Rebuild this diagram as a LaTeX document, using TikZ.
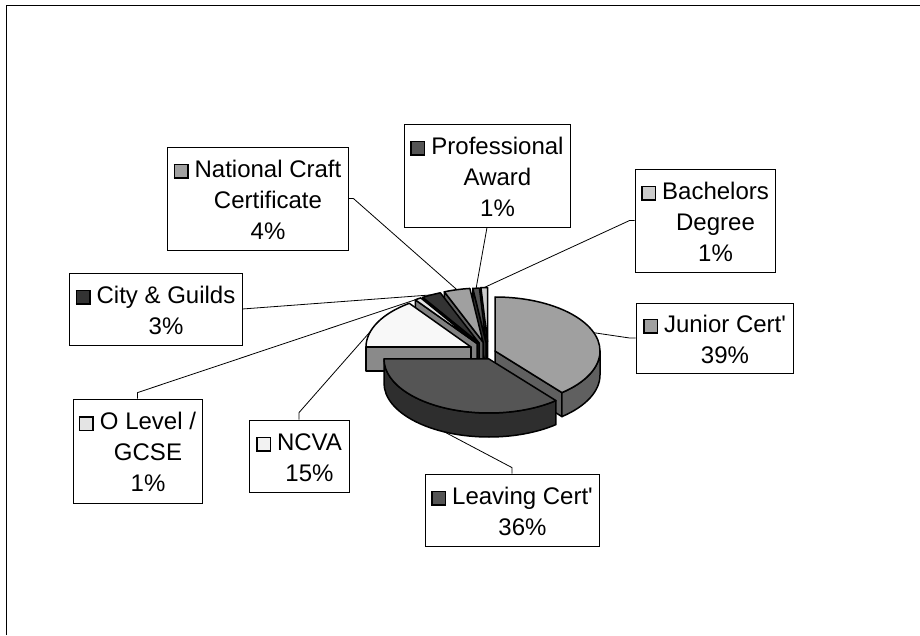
\documentclass[tikz,border=0pt]{standalone}
\usepackage{fontspec}
\setmainfont{Liberation Sans}[Ligatures=TeXOff]
\usetikzlibrary{calc}

% slice colours: top faces and darker side faces
\definecolor{jTop}{HTML}{A0A0A0}\definecolor{jSide}{HTML}{606060}
\definecolor{lTop}{HTML}{555555}\definecolor{lSide}{HTML}{2E2E2E}
\definecolor{nTop}{HTML}{F8F8F8}\definecolor{nSide}{HTML}{8A8A8A}
\definecolor{oTop}{HTML}{E4E4E4}\definecolor{oSide}{HTML}{808080}
\definecolor{cTop}{HTML}{333333}\definecolor{cSide}{HTML}{1C1C1C}
\definecolor{fTop}{HTML}{A0A0A0}\definecolor{fSide}{HTML}{606060}
\definecolor{pTop}{HTML}{555555}\definecolor{pSide}{HTML}{2E2E2E}
\definecolor{bTop}{HTML}{CCCCCC}\definecolor{bSide}{HTML}{757575}
\definecolor{nKey}{HTML}{F2F2F2}

% legend key square
\newcommand\swatch[1]{{\setlength\fboxsep{0pt}\setlength\fboxrule{1.5pt}%
  \fcolorbox{black}{#1}{\rule{0pt}{12pt}\hspace{12pt}}}}
% label body: key in the first column, centred lines in the second
\newcommand\labtext[1]{\raisebox{-10pt}[0pt][0pt]{\makebox[0pt]{%
  \begin{tabular}{@{}l@{\hspace{6pt}}c@{}}#1\end{tabular}}}}

% pie pieces: apex coordinate, angles, colour
\newcommand\pietop[4]{\filldraw[pieface, fill=#4] (#1) --
  ([shift={(#2:105pt and 54pt)}]#1)
  arc[start angle=#2, end angle=#3, x radius=105pt, y radius=54pt] -- cycle;}
\newcommand\piecut[3]{\filldraw[pieface, fill=#3] (#1) --
  ([shift={(#2:105pt and 54pt)}]#1) -- ++(0,-24pt) -- ([yshift=-24pt]#1) -- cycle;}
\newcommand\piewall[4]{\filldraw[pieface, fill=#4]
  ([shift={(#2:105pt and 54pt)}]#1)
  arc[start angle=#2, end angle=#3, x radius=105pt, y radius=54pt] -- ++(0,-24pt)
  arc[start angle=#3, end angle=#2, x radius=105pt, y radius=54pt] -- cycle;}

\tikzset{
  lab/.style={draw=black, line width=0.8pt, fill=white, inner sep=0pt,
    font=\fontsize{24}{31}\selectfont},
  conn/.style={draw=black, line width=0.8pt},
  pieface/.style={draw=black, line width=1.5pt, line join=round},
}

\begin{document}
\begin{tikzpicture}[x=1pt, y=1pt]
\useasboundingbox (0,0) rectangle (920,635);
\fill[white] (0,0) rectangle (920,635);
\draw[line width=1.5pt] (6.5,0) -- (6.5,629.5) -- (920,629.5);

% apexes of the exploded slices
\coordinate (aJ) at (495,284);
\coordinate (aL) at (489,276);
\coordinate (aN) at (471,288);
\coordinate (aO) at (477,291.5);
\coordinate (aC) at (479,292);
\coordinate (aF) at (483,293);
\coordinate (aP) at (486,293);
\coordinate (aB) at (487.5,293.5);

% back slices first
\piecut{aB}{93.6}{bSide}   \pietop{aB}{93.6}{90}{bTop}
\piecut{aP}{97.2}{pSide}   \pietop{aP}{97.2}{93.6}{pTop}
\piecut{aF}{111.6}{fSide}  \pietop{aF}{111.6}{97.2}{fTop}
\piecut{aC}{122.4}{cSide}  \pietop{aC}{122.4}{111.6}{cTop}
\piecut{aO}{126}{oSide}    \pietop{aO}{126}{122.4}{oTop}
\piecut{aN}{180}{nSide}    \pietop{aN}{180}{126}{nTop}
\piecut{aJ}{-50.4}{jSide}  \piewall{aJ}{0}{-50.4}{jSide}  \pietop{aJ}{90}{-50.4}{jTop}
\piewall{aL}{-50.4}{-180}{lSide}  \pietop{aL}{-50.4}{-180}{lTop}

% leader line ends on the slices
\coordinate (pB) at ([shift={(91.8:105pt and 54pt)}]aB);
\coordinate (pP) at ([shift={(95.4:105pt and 54pt)}]aP);
\coordinate (pF) at ([shift={(104.4:105pt and 54pt)}]aF);
\coordinate (pC) at ([shift={(117:105pt and 54pt)}]aC);
\coordinate (pO) at ([shift={(124.2:105pt and 54pt)}]aO);
\coordinate (pN) at ([shift={(163:105pt and 54pt)}]aN);
\coordinate (pJ) at ([shift={(19.8:105pt and 54pt)}]aJ);
\coordinate (pL) at ([shift={(-115.2:105pt and 54pt)},yshift=-24pt]aL);

% data labels
\node[lab, minimum width=181pt, minimum height=103pt] (natcraft) at (257.5,436.5)
  {\labtext{\swatch{fTop} & National Craft\\ & Certificate\\ & 4\%}};
\node[lab, minimum width=166pt, minimum height=103pt] (prof) at (487,459.5)
  {\labtext{\swatch{pTop} & Professional\\ & Award\\ & 1\%}};
\node[lab, minimum width=140pt, minimum height=103pt] (bach) at (705,414.5)
  {\labtext{\swatch{bTop} & Bachelors\\ & Degree\\ & 1\%}};
\node[lab, minimum width=157pt, minimum height=70pt] (junior) at (714.5,297)
  {\labtext{\swatch{jTop} & Junior Cert'\\ & 39\%}};
\node[lab, minimum width=174pt, minimum height=72pt] (leaving) at (512,125)
  {\labtext{\swatch{lTop} & Leaving Cert'\\ & 36\%}};
\node[lab, minimum width=173pt, minimum height=72pt] (city) at (155.5,326)
  {\labtext{\swatch{cTop} & City \& Guilds\\ & 3\%}};
\node[lab, minimum width=129pt, minimum height=104pt] (olevel) at (137.5,184)
  {\labtext{\swatch{oTop} & O Level /\\ & GCSE\\ & 1\%}};
\node[lab, minimum width=100pt, minimum height=72pt] (ncva) at (299,179)
  {\labtext{\swatch{nKey} & NCVA\\ & 15\%}};

% leader lines
\draw[conn] (natcraft.east) -- ++(5,0) -- (pF);
\draw[conn] (prof.south) -- (pP);
\draw[conn] (bach.west) -- ++(-5,0) -- (pB);
\draw[conn] (junior.west) -- ++(-6,0) -- (pJ);
\draw[conn] (leaving.north) -- ++(0,6) -- (pL);
\draw[conn] (city.east) -- (pC);
\draw[conn] (olevel.north) -- ++(0,6) -- (pO);
\draw[conn] (ncva.north) -- ++(0,7) -- (pN);
\end{tikzpicture}
\end{document}
